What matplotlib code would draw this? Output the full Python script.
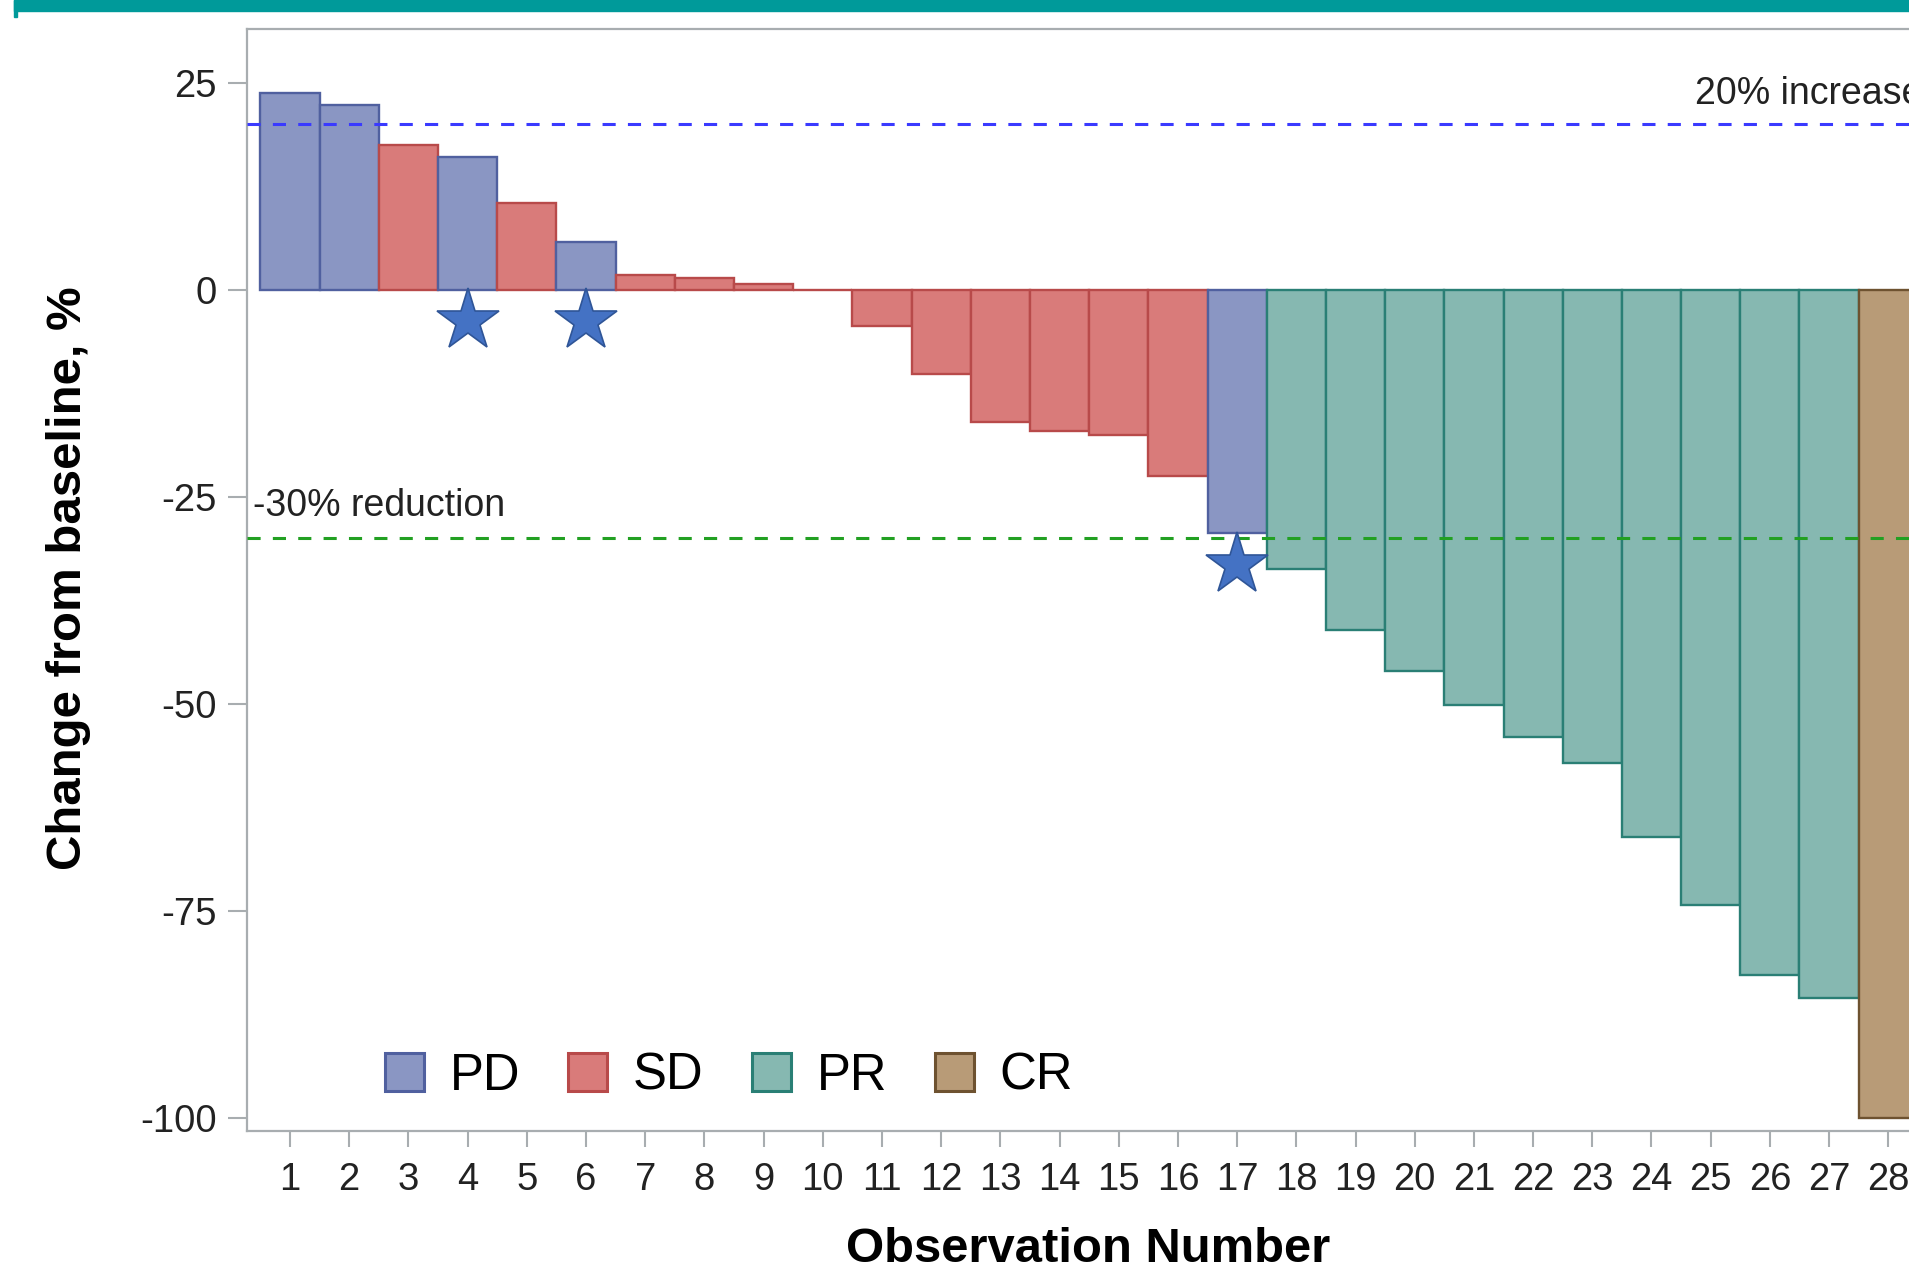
# Waterfall plot of best change from baseline

import matplotlib
matplotlib.use('Agg')
import matplotlib.pyplot as plt
from matplotlib.patches import Rectangle, Patch

plt.rcParams['font.family'] = ['Liberation Sans', 'DejaVu Sans']
plt.rcParams['axes.unicode_minus'] = False

# data
obs = list(range(1, 29))
change = [23.8, 22.3, 17.5, 16.1, 10.5, 5.8, 1.8, 1.5, 0.7, 0.0,
          -4.3, -10.2, -16.0, -17.0, -17.5, -22.5, -29.4, -33.7, -41.1, -46.0,
          -50.1, -54.0, -57.1, -66.1, -74.3, -82.7, -85.5, -100.0]
response = ['PD', 'PD', 'SD', 'PD', 'SD', 'PD', 'SD', 'SD', 'SD', 'SD',
            'SD', 'SD', 'SD', 'SD', 'SD', 'SD', 'PD', 'PR', 'PR', 'PR',
            'PR', 'PR', 'PR', 'PR', 'PR', 'PR', 'PR', 'CR']
starred = [4, 6, 17]
categories = ['PD', 'SD', 'PR', 'CR']
yticks = [25, 0, -25, -50, -75, -100]

fills = {'PD': '#8a96c3', 'SD': '#d97b7a', 'PR': '#86b8b1', 'CR': '#b89b77'}
edges = {'PD': '#50609f', 'SD': '#b84a4a', 'PR': '#2a7f75', 'CR': '#6e5230'}

W, H = 1909, 1271
fig = plt.figure(figsize=(W / 100, H / 100), dpi=100)
ax = fig.add_axes([247 / W, 1 - 1131 / H, 1 - 247 / W, (1131 - 29) / H])

ax.bar(obs, change, width=1.0,
       color=[fills[r] for r in response],
       edgecolor=[edges[r] for r in response], linewidth=1.7, zorder=2)

# stars under selected bars
for s in starred:
    v = change[s - 1]
    ax.plot(s, min(v, 0) - 3.8, marker='*', ms=47, color='#4472c4',
            mec='#2f5597', mew=1.2, zorder=4, clip_on=False)

# reference lines
ax.axhline(20, color='#3a3aff', lw=2.2, dashes=(4.3, 4.0), zorder=3)
ax.axhline(-30, color='#22a022', lw=2.2, dashes=(4.3, 4.0), zorder=3)
ax.text(24.73, 23.7, '20% increase', fontsize=27, color='#222222',
        va='center', ha='left')
ax.text(0.375, -26.1, '-30% reduction', fontsize=27, color='#222222',
        va='center', ha='left')

ax.set_xlim(0.274, 28.35)
ax.set_ylim(-101.57, 31.52)
ax.set_xticks(obs)
ax.set_yticks(yticks)
ax.tick_params(axis='x', labelsize=27.5, length=11.5, width=1.5,
               color='#a8adb0', pad=11, labelcolor='#222222')
ax.tick_params(axis='y', labelsize=27.5, length=14, width=1.5,
               color='#a8adb0', pad=8, labelcolor='#222222')
for side in ['left', 'bottom', 'top']:
    ax.spines[side].set_color('#a8adb0')
    ax.spines[side].set_linewidth(1.6)
ax.spines['right'].set_visible(False)

handles = [Patch(facecolor=fills[c], edgecolor=edges[c], linewidth=2.2, label=c)
           for c in categories]
fig.legend(handles=handles, loc='center left', ncol=4,
           bbox_to_anchor=(385 / W, 1 - 1076 / H), frameon=False,
           fontsize=36.6, handlelength=0.77, handleheight=0.77,
           handletextpad=0.5, columnspacing=0.95, borderpad=0, borderaxespad=0)

fig.text(69 / W, 1 - 578 / H, 'Change from baseline, %', rotation=90,
         fontsize=35.4, fontweight='bold', ha='center', va='center')
fig.text(1088 / W, 1 - 1250 / H, 'Observation Number',
         fontsize=35.3, fontweight='bold', ha='center', va='center')

# teal banner cut off at the top
fig.patches.append(Rectangle((14 / W, 1 - 11 / H), 1, 11 / H,
                             transform=fig.transFigure, color='#009a9a'))
fig.patches.append(Rectangle((14 / W, 1 - 17 / H), 3 / W, 17 / H,
                             transform=fig.transFigure, color='#009a9a'))

fig.savefig('out.png', dpi=100)
